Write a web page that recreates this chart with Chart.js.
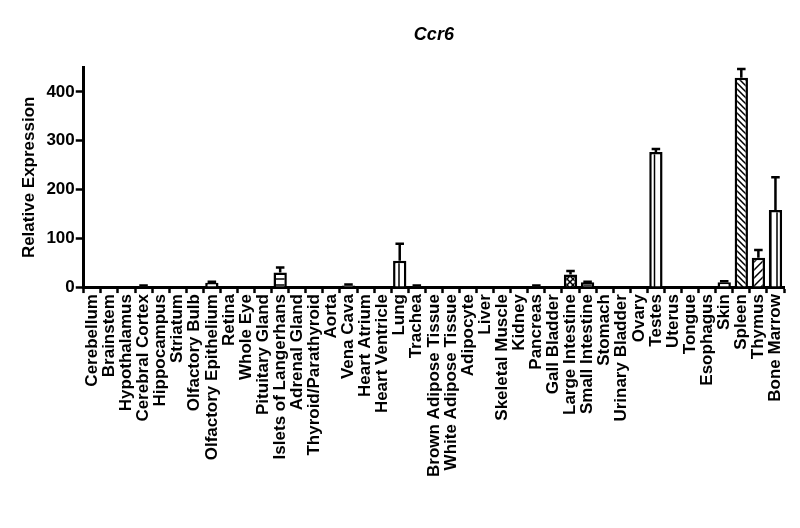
<!DOCTYPE html>
<html>
<head>
<meta charset="utf-8">
<script src="https://cdn.jsdelivr.net/npm/chart.js@4"></script>
<style>
  html, body { margin: 0; padding: 0; background: #fff; }
  #wrap { width: 800px; height: 528px; }
</style>
</head>
<body>
<div id="wrap"><canvas id="myChart"></canvas></div>
<script>
// tissues along the x axis
var tissues = [
  "Cerebellum", "Brainstem", "Hypothalamus", "Cerebral Cortex", "Hippocampus",
  "Striatum", "Olfactory Bulb", "Olfactory Epithelium", "Retina", "Whole Eye",
  "Pituitary Gland", "Islets of Langerhans", "Adrenal Gland", "Thyroid/Parathyroid",
  "Aorta", "Vena Cava", "Heart Atrium", "Heart Ventricle", "Lung", "Trachea",
  "Brown Adipose Tissue", "White Adipose Tissue", "Adipocyte", "Liver",
  "Skeletal Muscle", "Kidney", "Pancreas", "Gall Bladder", "Large Intestine",
  "Small Intestine", "Stomach", "Urinary Bladder", "Ovary", "Testes", "Uterus",
  "Tongue", "Esophagus", "Skin", "Spleen", "Thymus", "Bone Marrow"
];

// mean relative expression
var expression = [
  0, 0, 0, 2, 0,
  0, 0, 9, 0, 0,
  0, 30, 0, 0,
  0, 3, 0, 0, 54, 2,
  0, 0, 0, 0,
  0, 0, 2, 0, 26,
  10, 0, 0, 0, 277, 0,
  0, 0, 10, 429, 60, 158
];

// upper error (SEM)
var errors = [
  0, 0, 0, 1, 0,
  0, 0, 2, 0, 0,
  0, 10, 0, 0,
  0, 2, 0, 0, 35, 1,
  0, 0, 0, 0,
  0, 0, 1, 0, 7,
  1, 0, 0, 0, 6, 0,
  0, 0, 2, 18, 16, 67
];

var yTicks = [0, 100, 200, 300, 400];

// fill pattern per tissue (anything not listed is plain white)
var fillKind = {
  "Islets of Langerhans": "hstripe",
  "Lung": "vstripe",
  "Large Intestine": "cross",
  "Small Intestine": "hstripe",
  "Testes": "vline",
  "Spleen": "diagDense",
  "Thymus": "diagWide",
  "Bone Marrow": "vstripe"
};

function makePattern(kind) {
  var c = document.createElement("canvas");
  var s = 6;
  if (kind === "vline") s = 7;
  if (kind === "diagDense") s = 6;
  if (kind === "diagWide") s = 8;
  c.width = s;
  c.height = s;
  var g = c.getContext("2d");
  g.fillStyle = "#fff";
  g.fillRect(0, 0, s, s);
  g.strokeStyle = "#000";
  g.lineWidth = 1.5;
  g.beginPath();
  if (kind === "hstripe") {
    g.moveTo(0, s / 2); g.lineTo(s, s / 2);
  } else if (kind === "vstripe" || kind === "vline") {
    g.moveTo(s / 2, 0); g.lineTo(s / 2, s);
  } else if (kind === "cross") {
    g.moveTo(0, 0); g.lineTo(s, s);
    g.moveTo(s, 0); g.lineTo(0, s);
  } else if (kind === "diagDense") {
    g.moveTo(-1, -1); g.lineTo(s + 1, s + 1);
    g.moveTo(-1, s - 1); g.lineTo(1, s + 1);
    g.moveTo(s - 1, -1); g.lineTo(s + 1, 1);
  } else if (kind === "diagWide") {
    g.moveTo(-1, s + 1); g.lineTo(s + 1, -1);
    g.moveTo(-1, 1); g.lineTo(1, -1);
    g.moveTo(s - 1, s + 1); g.lineTo(s + 1, s - 1);
  }
  g.stroke();
  return g.createPattern(c, "repeat");
}

var patterns = {};
var fills = tissues.map(function (t) {
  var k = fillKind[t];
  if (!k) return "#fff";
  if (!patterns[k]) patterns[k] = makePattern(k);
  return patterns[k];
});

// draws the upper error bar with a cap on top of every bar
var errorBars = {
  id: "errorBars",
  afterDatasetsDraw: function (chart) {
    var meta = chart.getDatasetMeta(0);
    var y = chart.scales.y;
    var ctx = chart.ctx;
    ctx.save();
    ctx.strokeStyle = "#000";
    ctx.lineWidth = 2.5;
    meta.data.forEach(function (bar, i) {
      if (!errors[i]) return;
      var top = y.getPixelForValue(expression[i] + errors[i]);
      var base = y.getPixelForValue(expression[i]);
      var half = bar.width * 0.32;
      ctx.beginPath();
      ctx.moveTo(bar.x, base);
      ctx.lineTo(bar.x, top);
      ctx.moveTo(bar.x - half, top);
      ctx.lineTo(bar.x + half, top);
      ctx.stroke();
    });
    ctx.restore();
  }
};

Chart.defaults.font.family = "'Liberation Sans', Arial, sans-serif";
Chart.defaults.color = "#000";

var ctx = document.getElementById("myChart").getContext("2d");
var chart = new Chart(ctx, {
  type: "bar",
  data: {
    labels: tissues,
    datasets: [
      {
        label: "Ccr6",
        data: expression,
        backgroundColor: fills,
        borderColor: "#000",
        borderWidth: 2.5,
        borderSkipped: "bottom",
        barPercentage: 0.78,
        categoryPercentage: 1.0
      }
    ]
  },
  plugins: [errorBars],
  options: {
    responsive: true,
    maintainAspectRatio: false,
    animation: false,
    layout: { padding: { left: 19, right: 16, top: 0, bottom: 50 } },
    plugins: {
      legend: { display: false },
      tooltip: { enabled: false },
      title: {
        display: true,
        text: "Ccr6",
        fullSize: false,
        font: { size: 18, weight: "bold", style: "italic" },
        padding: { top: 24, bottom: 22 }
      }
    },
    scales: {
      x: {
        border: { color: "#000", width: 3 },
        grid: {
          drawOnChartArea: false,
          tickLength: 6,
          tickColor: "#000",
          tickWidth: 2.5
        },
        ticks: {
          autoSkip: false,
          maxRotation: 90,
          minRotation: 90,
          padding: 1,
          font: { size: 17, weight: "bold" }
        }
      },
      y: {
        min: 0,
        max: 450,
        border: { color: "#000", width: 3 },
        grid: {
          drawOnChartArea: false,
          tickLength: 8,
          tickColor: "#000",
          tickWidth: 2.5
        },
        afterBuildTicks: function (axis) {
          axis.ticks = yTicks.map(function (v) { return { value: v }; });
        },
        ticks: {
          padding: 1,
          font: { size: 17, weight: "bold" }
        },
        title: {
          display: true,
          text: "Relative Expression",
          font: { size: 17, weight: "bold" },
          padding: { top: 0, bottom: 6 }
        }
      }
    }
  }
});
</script>
</body>
</html>
